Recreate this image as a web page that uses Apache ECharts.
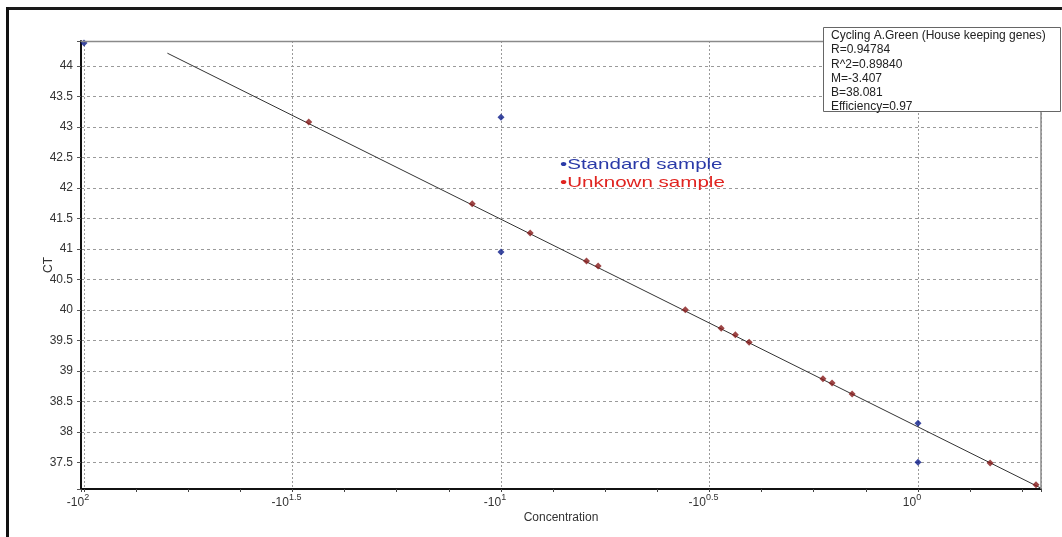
<!DOCTYPE html>
<html><head><meta charset="utf-8">
<script src="https://cdn.jsdelivr.net/npm/echarts@6/dist/echarts.min.js"></script>
<style>html,body{margin:0;padding:0;background:#fff}#c{width:1062px;height:537px}</style>
</head><body><div id="c"></div>
<script>
// ---- data ----
const stdX = [-2, -1, -1, 0, 0];
const stdY = [44.377, 43.16, 40.95, 38.14, 37.5];
const unkX = [-1.461, -1.069, -0.930, -0.795, -0.767, -0.558, -0.472, -0.438, -0.405, -0.228, -0.206, -0.158, 0.173, 0.283];
const unkY = [43.08, 41.74, 41.26, 40.80, 40.72, 40.00, 39.70, 39.59, 39.47, 38.87, 38.80, 38.62, 37.49, 37.13];
const fitX = [-1.8, 0.295];
const fitY = [44.21, 37.076];
const xTickValues = [-2, -1.5, -1, -0.5, 0];
const xTickBase = ['-10', '-10', '-10', '-10', '10'];
const xTickExp = ['2', '1.5', '1', '0.5', '0'];
const infoLines = ['Cycling A.Green (House keeping genes)', 'R=0.94784', 'R^2=0.89840', 'M=-3.407', 'B=38.081', 'Efficiency=0.97'];
const legendLabels = ['Standard sample', 'Unknown sample'];

const FONT = "'Liberation Sans', Arial, sans-serif";
const zip = (xs, ys) => xs.map((x, i) => [x, ys[i]]);
const X_MIN = -2.0072, X_MAX = 0.295, Y_MIN = 37.062, Y_MAX = 44.41;

const chart = echarts.init(document.getElementById('c'), null, {renderer: 'canvas'});
chart.setOption({
  backgroundColor: '#fff',
  animation: false,
  grid: {left: 81, right: 21, top: 41, bottom: 48, containLabel: false},
  xAxis: [{
    type: 'value', min: X_MIN, max: X_MAX, minInterval: 0.5, maxInterval: 0.5,
    name: 'Concentration', nameLocation: 'middle', nameGap: 23, nameMoveOverlap: false,
    nameTextStyle: {fontFamily: FONT, fontSize: 12, color: '#333'},
    axisLine: {show: true, onZero: false, lineStyle: {color: '#111', width: 2}},
    axisTick: {show: false},
    splitLine: {show: true, lineStyle: {color: '#9a9a9a', width: 1, type: [2, 2]}},
    axisLabel: {
      margin: 4, padding: [0, 12, 0, 0],
      showMinLabel: true, showMaxLabel: true,
      formatter: v => {
        const i = xTickValues.findIndex(t => Math.abs(t - v) < 1e-6);
        return i < 0 ? '' : '{b|' + xTickBase[i] + '}{e|' + xTickExp[i] + '}';
      },
      rich: {
        b: {fontFamily: FONT, fontSize: 12, color: '#333'},
        e: {fontFamily: FONT, fontSize: 9, color: '#333', padding: [0, 0, 10, 0]}
      }
    }
  }, {
    type: 'value', min: X_MIN, max: X_MAX, minInterval: 0.125, maxInterval: 0.125,
    position: 'bottom',
    axisLine: {show: false, onZero: false}, axisLabel: {show: false}, splitLine: {show: false},
    axisTick: {show: true, length: 3, lineStyle: {color: '#444', width: 1}}
  }],
  yAxis: {
    type: 'value', min: Y_MIN, max: Y_MAX, minInterval: 0.5, maxInterval: 0.5,
    name: 'CT', nameLocation: 'middle', nameGap: 26, nameMoveOverlap: false,
    nameTextStyle: {fontFamily: FONT, fontSize: 12, color: '#333'},
    axisLine: {show: true, onZero: false, lineStyle: {color: '#111', width: 2}},
    axisTick: {show: true, length: 4, lineStyle: {color: '#555'}},
    splitLine: {show: true, lineStyle: {color: '#9a9a9a', width: 1, type: [3, 3]}},
    axisLabel: {
      margin: 8, fontFamily: FONT, fontSize: 12, color: '#333',
      formatter: v => (Math.abs(v * 2 - Math.round(v * 2)) < 1e-6 ? String(v) : '')
    }
  },
  series: [{
    type: 'line', data: zip(fitX, fitY), showSymbol: false, silent: true,
    lineStyle: {color: '#333', width: 1}, z: 2
  }, {
    name: legendLabels[1], type: 'scatter', data: zip(unkX, unkY),
    symbol: 'diamond', symbolSize: 7, itemStyle: {color: '#861818'}, z: 3
  }, {
    name: legendLabels[0], type: 'scatter', data: zip(stdX, stdY),
    symbol: 'diamond', symbolSize: 7, itemStyle: {color: '#0a1a88'}, z: 4
  }],
  graphic: [
    {type: 'line', shape: {x1: 6, y1: 8.5, x2: 1062, y2: 8.5}, style: {stroke: '#1a1a1a', lineWidth: 3}, z: 100},
    {type: 'line', shape: {x1: 7.5, y1: 7, x2: 7.5, y2: 537}, style: {stroke: '#111', lineWidth: 3}, z: 100},
    {type: 'line', shape: {x1: 81, y1: 41.5, x2: 1041, y2: 41.5}, style: {stroke: '#8a8a8a', lineWidth: 1.5}, z: 100},
    {type: 'line', shape: {x1: 1041, y1: 41, x2: 1041, y2: 489}, style: {stroke: '#8a8a8a', lineWidth: 1.5}, z: 100},
    {type: 'rect', shape: {x: 823.5, y: 27.5, width: 237, height: 84}, style: {fill: '#fff', stroke: '#666', lineWidth: 1}, z: 101},
    {type: 'text', x: 831, y: 28.5, z: 102,
      style: {text: infoLines.join('\n'), font: '12px ' + FONT, fill: '#222', lineHeight: 14.3, textVerticalAlign: 'top'}},
    {type: 'text', x: 560, y: 165, scaleX: 1.37, z: 102,
      style: {text: '\u2022' + legendLabels[0], font: '15px ' + FONT, fill: '#2a3aa8', textVerticalAlign: 'middle'}},
    {type: 'text', x: 560, y: 183, scaleX: 1.37, z: 102,
      style: {text: '\u2022' + legendLabels[1], font: '15px ' + FONT, fill: '#e02420', textVerticalAlign: 'middle'}}
  ]
});
</script>
</body></html>
